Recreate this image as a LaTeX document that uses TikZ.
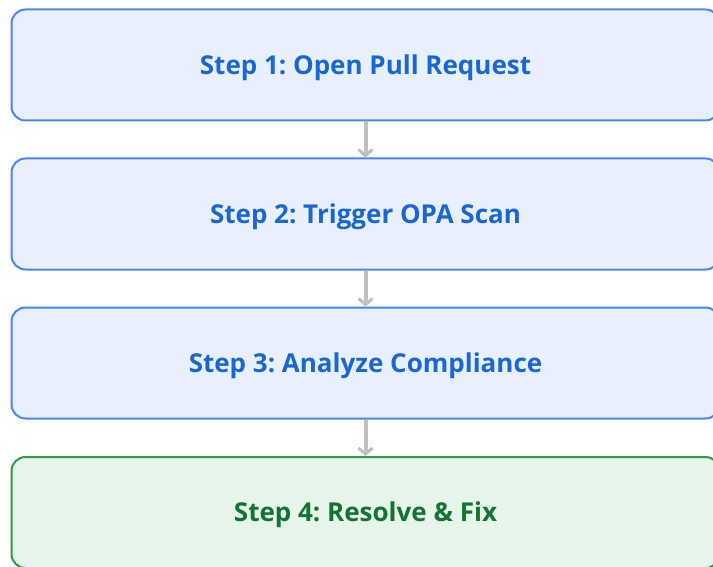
\documentclass[tikz,border=0pt]{standalone}
\usepackage{fontspec}
\setmainfont{Open Sans}
\usetikzlibrary{arrows.meta}
\definecolor{bluefill}{HTML}{E8F0FE}
\definecolor{blueline}{HTML}{4A86F0}
\definecolor{bluetext}{HTML}{1A67D2}
\definecolor{greenfill}{HTML}{E6F4EA}
\definecolor{greenline}{HTML}{2E9A4A}
\definecolor{greentext}{HTML}{137333}
\definecolor{arrowgray}{HTML}{BFBFBF}
\tikzset{
  stepbox/.style={rectangle, rounded corners=14pt, line width=2pt,
    minimum width=708pt, minimum height=111pt, inner sep=0pt,
    text height=18.6pt, text depth=0pt,
    font=\fontsize{26}{28}\selectfont\bfseries\frenchspacing},
  bluebox/.style={stepbox, draw=blueline, fill=bluefill, text=bluetext},
  greenbox/.style={stepbox, draw=greenline, fill=greenfill, text=greentext},
  flow/.style={draw=arrowgray, line width=4pt,
    -{Straight Barb[length=6pt,width=14pt,line width=3pt]}}
}
\begin{document}
\begin{tikzpicture}[x=1pt,y=-1pt]
\useasboundingbox (0,0) rectangle (713,567);
\clip (0,0) rectangle (713,567);
\node[bluebox] (s1) at (365.5,65) {Step 1: Open Pull Request};
\node[bluebox] (s2) at (365.5,214) {Step 2: Trigger OPA Scan};
\node[bluebox] (s3) at (365.5,363) {Step 3: Analyze Compliance};
\node[greenbox] (s4) at (365.5,512.5) {Step 4: Resolve \& Fix};
\draw[flow] (s1.south) -- (s2.north);
\draw[flow] (s2.south) -- (s3.north);
\draw[flow] (s3.south) -- (s4.north);
\end{tikzpicture}
\end{document}
